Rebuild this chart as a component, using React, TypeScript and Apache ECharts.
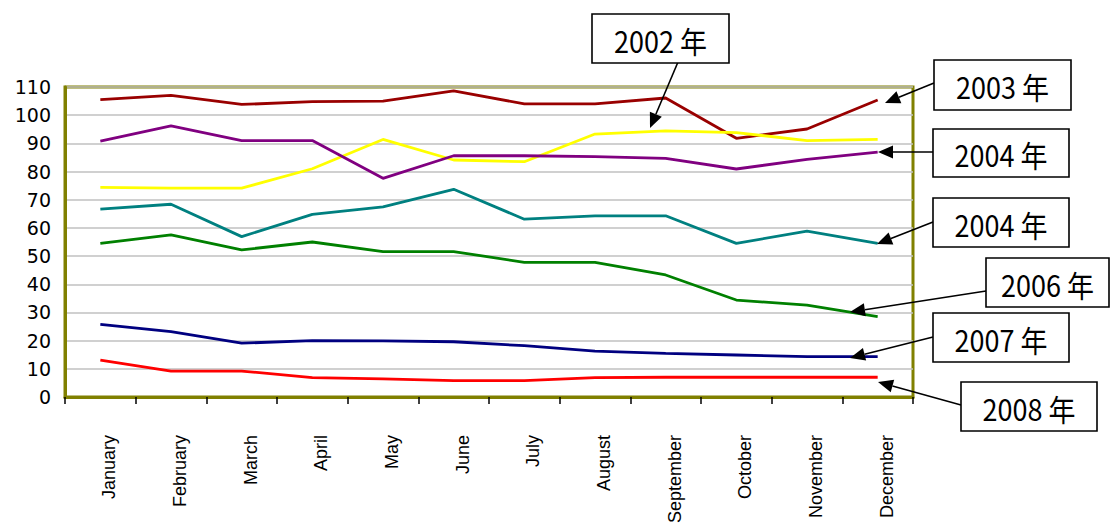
import React, { useEffect, useRef } from "react";
import * as echarts from "echarts";

const months = [
  "January", "February", "March", "April", "May", "June",
  "July", "August", "September", "October", "November", "December",
];

const yTicks = { min: 0, max: 110, interval: 10 };

const s2003 = [105.5, 107, 103.8, 104.8, 105, 108.6, 104, 104, 106.1, 91.8, 95.1, 105.4];
const s2002 = [74.4, 74.1, 74.1, 81, 91.4, 84.1, 83.5, 93.3, 94.4, 93.8, 91, 91.4];
const s2004a = [90.8, 96.2, 91, 91, 77.6, 85.6, 85.6, 85.3, 84.7, 80.9, 84.3, 86.9];
const s2004b = [66.7, 68.4, 56.9, 64.8, 67.5, 73.7, 63.1, 64.3, 64.3, 54.5, 58.9, 54.5];
const s2006 = [54.5, 57.5, 52.2, 55, 51.6, 51.6, 47.8, 47.8, 43.3, 34.4, 32.6, 28.5];
const s2007 = [25.8, 23.2, 19.1, 20, 19.9, 19.6, 18.2, 16.3, 15.5, 14.9, 14.3, 14.3];
const s2008 = [13.1, 9.2, 9.2, 6.9, 6.4, 5.8, 5.8, 6.9, 7, 7, 7, 7];

const seriesList = [
  { name: "2003年", data: s2003, color: "#990000" },
  { name: "2002年", data: s2002, color: "#FFFF00" },
  { name: "2004年", data: s2004a, color: "#800080" },
  { name: "2004年 ", data: s2004b, color: "#008080" },
  { name: "2006年", data: s2006, color: "#008000" },
  { name: "2007年", data: s2007, color: "#000080" },
  { name: "2008年", data: s2008, color: "#FF0000" },
];

// Annotation callouts: box [x, y, w, h], arrow from -> tip
const callouts = [
  { text: "2002 年", box: [592, 14, 137, 49], from: [678, 62], tip: [650, 128] },
  { text: "2003 年", box: [934, 60, 137, 50], from: [934, 83], tip: [885, 103] },
  { text: "2004 年", box: [933, 129, 136, 48], from: [933, 152], tip: [878, 152] },
  { text: "2004 年", box: [933, 198, 136, 49], from: [933, 222], tip: [877, 244] },
  { text: "2006 年", box: [986, 258, 123, 49], from: [986, 291], tip: [850, 312] },
  { text: "2007 年", box: [933, 313, 136, 49], from: [933, 337], tip: [850, 358] },
  { text: "2008 年", box: [961, 382, 136, 49], from: [961, 405], tip: [878, 382] },
];

function buildGraphics() {
  const els: any[] = [];
  callouts.forEach((c) => {
    const [bx, by, bw, bh] = c.box;
    const [fx, fy] = c.from;
    const [tx, ty] = c.tip;
    const dx = tx - fx;
    const dy = ty - fy;
    const len = Math.sqrt(dx * dx + dy * dy);
    const ux = dx / len;
    const uy = dy / len;
    const headLen = 15;
    const headHalf = 6.5;
    const baseX = tx - ux * headLen;
    const baseY = ty - uy * headLen;
    const px = -uy;
    const py = ux;
    els.push({
      type: "line",
      z: 100,
      shape: { x1: fx, y1: fy, x2: baseX, y2: baseY },
      style: { stroke: "#000", lineWidth: 1.6 },
    });
    els.push({
      type: "polygon",
      z: 100,
      shape: {
        points: [
          [tx, ty],
          [baseX + px * headHalf, baseY + py * headHalf],
          [baseX - px * headHalf, baseY - py * headHalf],
        ],
      },
      style: { fill: "#000" },
    });
    els.push({
      type: "rect",
      z: 100,
      shape: { x: bx, y: by, width: bw, height: bh },
      style: { fill: "#fff", stroke: "#000", lineWidth: 1.6 },
    });
    els.push({
      type: "text",
      z: 101,
      x: bx + bw / 2,
      y: by + bh / 2 + 1,
      scaleX: 0.9,
      style: {
        text: c.text,
        fontSize: 30,
        fontFamily: "Noto Sans CJK JP",
        fill: "#000",
        align: "center",
        verticalAlign: "middle",
      },
    });
  });
  return els;
}

export default function App() {
  const ref = useRef<HTMLDivElement>(null);
  useEffect(() => {
    if (!ref.current) return;
    const chart = echarts.init(ref.current, undefined, { renderer: "svg" });
    chart.setOption({
      animation: false,
      backgroundColor: "#ffffff",
      grid: {
        left: 65,
        right: 198,
        top: 87,
        bottom: 130,
        containLabel: false,
        outerBoundsMode: "none",
        show: true,
        borderColor: "#808000",
        borderWidth: 3,
        backgroundColor: "transparent",
      },
      xAxis: {
        type: "category",
        data: months,
        boundaryGap: true,
        axisLine: { show: true, lineStyle: { color: "#808000", width: 3 } },
        axisTick: { show: true, length: 7, lineStyle: { color: "#000", width: 1.5 } },
        axisLabel: {
          rotate: 90,
          interval: 0,
          margin: 38,
          fontSize: 18,
          fontFamily: "Liberation Sans",
          color: "#000",
          verticalAlign: "top",
        },
        splitLine: { show: false },
      },
      yAxis: {
        type: "value",
        min: yTicks.min,
        max: yTicks.max,
        interval: yTicks.interval,
        axisLine: { show: true, lineStyle: { color: "#808000", width: 3 } },
        axisTick: { show: false },
        axisLabel: {
          margin: 14,
          fontSize: 19,
          fontFamily: "DejaVu Sans",
          color: "#000",
        },
        splitLine: { show: true, lineStyle: { color: "#C0C0C0", width: 1.5 } },
      },
      series: seriesList.map((s) => ({
        name: s.name,
        type: "line",
        data: s.data,
        symbol: "none",
        lineStyle: { color: s.color, width: 2.8 },
        itemStyle: { color: s.color },
      })),
      graphic: buildGraphics(),
    });
    return () => chart.dispose();
  }, []);
  return (
    <div
      ref={ref}
      style={{ position: "absolute", left: 0, top: 0, width: 1111, height: 527 }}
    />
  );
}
